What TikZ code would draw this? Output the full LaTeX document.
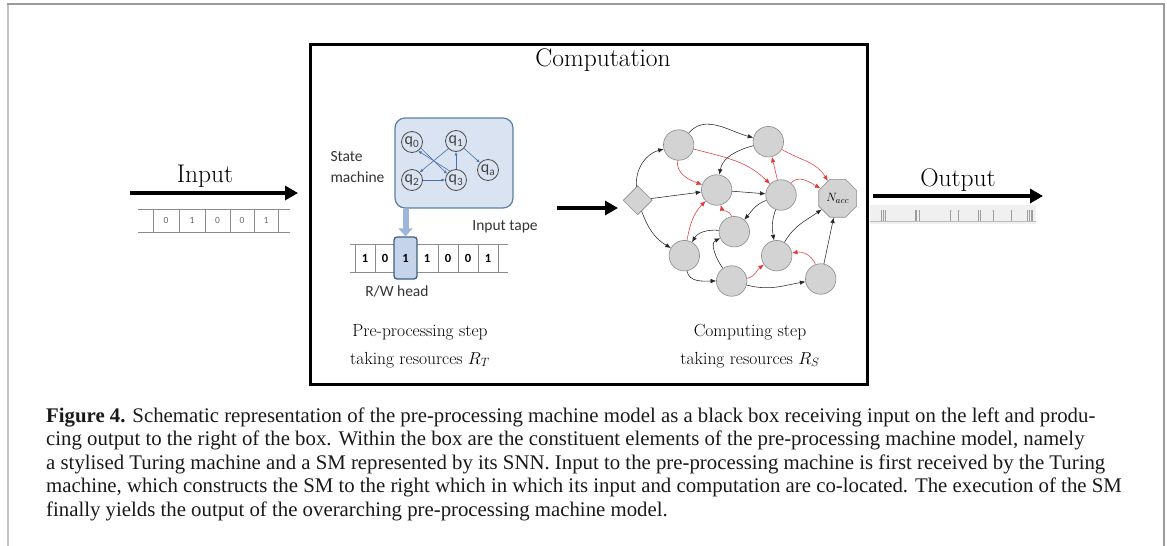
\documentclass[tikz,border=0pt]{standalone}
\usepackage{fontspec}
\newfontfamily\smfont{Carlito}
\newfontfamily\capfont{Liberation Serif}
\usetikzlibrary{arrows.meta,shapes.geometric}
\definecolor{framegray}{HTML}{9A9A9A}
\definecolor{frameleft}{HTML}{C4C4C4}
\definecolor{smfill}{HTML}{DAE3F1}
\definecolor{smedge}{HTML}{5E7FA8}
\definecolor{smarr}{HTML}{4A70A8}
\definecolor{headfill}{HTML}{C5D4EA}
\definecolor{headedge}{HTML}{3F5E86}
\definecolor{headarr}{HTML}{9DB6DB}
\definecolor{nfill}{HTML}{D3D3D3}
\definecolor{nedge}{HTML}{8A8A8A}
\definecolor{inhred}{HTML}{E0393B}
\definecolor{tapeline}{HTML}{8C8C8C}
\definecolor{spikeband}{HTML}{F0F0F0}
\definecolor{spike}{HTML}{9C9C9C}
\tikzset{
  bigarrow/.style={line width=4pt,-{Triangle[length=13pt,width=14pt]}},
  neuron/.style={circle,fill=nfill,draw=nedge,line width=0.6pt,minimum size=30.5pt,inner sep=0pt},
  excite/.style={line width=0.55pt,draw=black!85,-{Latex[length=5.5pt,width=4.5pt]}},
  inhibit/.style={line width=0.55pt,draw=inhred,-{Latex[length=5.5pt,width=4.5pt]}},
  qstate/.style={circle,draw=black!70,line width=0.8pt,minimum size=21pt,inner sep=0pt,
    font=\smfont\fontsize{16}{16}\selectfont,text=black!75},
  smarrow/.style={line width=0.6pt,draw=smarr,-{Latex[length=3.5pt,width=3pt]}},
  bigtext/.style={font=\fontsize{25.5}{30}\selectfont},
  steptext/.style={align=center,font=\fontsize{17.5}{28}\selectfont},
  tmtext/.style={font=\smfont\fontsize{15.5}{21}\selectfont,text=black!80},
  tapedigit/.style={font=\smfont\bfseries\fontsize{12.5}{12.5}\selectfont,inner sep=0pt},
  indigit/.style={font=\smfont\fontsize{9.5}{9.5}\selectfont,text=black!60,inner sep=0pt},
  capline/.style={anchor=base west,inner sep=0pt,font=\capfont\fontsize{20.8}{23.5}\selectfont,text=black!90},
}
\begin{document}
\begin{tikzpicture}[x=1pt,y=1pt]
\useasboundingbox (0,0) rectangle (1167,-546);

% page frame
\draw[frameleft,line width=2pt] (8,-546) -- (8,-4);
\draw[framegray,line width=1.2pt] (7,-4) -- (1164,-4) -- (1164,-546);

% black box
\draw[line width=3pt] (310,-44) rectangle (867,-384);
\node[bigtext,anchor=base] (comp) at (603,-66) {Computation};

% input side
\coordinate (inA) at (130,-193);
\coordinate (inB) at (298,-193);
\draw[bigarrow] (inA) -- (inB);
\node[bigtext,anchor=base] (inlabel) at (205,-182) {Input};
\draw[tapeline,line width=0.7pt] (138,-209) -- (290,-209) (138,-232) -- (290,-232);
\foreach \x in {153,179,205,230,254,278}
  \draw[tapeline,line width=0.7pt] (\x,-209) -- (\x,-232);
\foreach \x/\d [count=\i] in {166/0,192/1,217.5/0,242/0,266/1}
  \node[indigit] (in\i) at (\x,-220.5) {\d};

% output side
\coordinate (outA) at (873,-196);
\coordinate (outB) at (1043,-196);
\draw[bigarrow] (outA) -- (outB);
\node[bigtext,anchor=base] (outlabel) at (958,-186) {Output};
\fill[spikeband] (870,-205) rectangle (1036,-224);
\draw[spike!70,line width=0.6pt] (870,-221) -- (1036,-221);
\foreach \x in {881.7,883.3,885,915,916.7,919,950.7,958.3,978.3,980.7,993.3,1011.7,1027.7,1029.3,1031,1032.7}
  \draw[spike,line width=0.6pt] (\x,-210) -- (\x,-221);

% state machine
\node[draw=smedge,fill=smfill,line width=1.2pt,rounded corners=10pt,
      minimum width=118pt,minimum height=90pt] (sm) at (454,-163) {};
\node[tmtext,anchor=west,align=left] (smlabel) at (327,-167) {State\\machine};
\node[qstate] (q0) at (412,-142) {q\textsubscript{0}};
\node[qstate] (q1) at (456,-141) {q\textsubscript{1}};
\node[qstate] (q2) at (412,-180) {q\textsubscript{2}};
\node[qstate] (q3) at (456,-180) {q\textsubscript{3}};
\node[qstate] (qa) at (488,-170) {q\textsubscript{a}};
\draw[smarrow] (q0.-35) -- (q3.145);
\draw[smarrow] (q3.125) -- (q0.-55);
\draw[smarrow] (q1.225) -- (q2.45);
\draw[smarrow] (q2) -- (q3);
\draw[smarrow] (q3) -- (q1);
\draw[smarrow] (q1) -- (qa);

% tape and read/write head
\draw[tapeline,line width=0.8pt] (350,-244) -- (508,-244) (350,-272) -- (508,-272);
\foreach \x in {355,375,395,416,438,458,478,498}
  \draw[tapeline,line width=0.8pt] (\x,-244) -- (\x,-272);
\node[draw=headedge,fill=headfill,line width=1.3pt,rounded corners=3pt,
      minimum width=23pt,minimum height=42pt,inner sep=0pt] (head) at (405.5,-258) {};
\foreach \x/\d [count=\i] in {365/1,385/0,405.5/1,427/1,448/0,468/0,488/1}
  \node[tapedigit] (t\i) at (\x,-258) {\d};
\draw[headarr,line width=6pt,-{Triangle[length=8pt,width=14pt]}] (sm.south -| head) -- (head.north);
\node[tmtext] (tapelabel) at (505,-227) {Input tape};
\node[tmtext] (rwlabel) at (397,-291) {R/W head};

% captions inside the box (base anchor sits on the second line)
\node[steptext,anchor=base] (pre) at (420,-364) {Pre-processing step\\taking resources $R_T$};
\node[steptext,anchor=base] (cmp) at (750,-364) {Computing step\\taking resources $R_S$};

% arrow into the network
\coordinate (midA) at (557,-208);
\coordinate (midB) at (618,-208);
\draw[bigarrow] (midA) -- (midB);

% spiking network
\node[diamond,fill=nfill,draw=nedge,line width=0.6pt,minimum size=29pt,inner sep=0pt] (dm) at (637.7,-200.3) {};
\node[neuron] (A) at (678.7,-145) {};
\node[neuron] (B) at (768.3,-141.7) {};
\node[neuron] (C) at (716.7,-190) {};
\node[neuron] (D) at (781,-195) {};
\node[neuron] (E) at (734.3,-231.7) {};
\node[neuron] (F) at (684.3,-255.7) {};
\node[neuron] (G) at (776.7,-255.7) {};
\node[neuron] (H) at (731.7,-281) {};
\node[neuron] (I) at (820.7,-279) {};
\node[regular polygon,regular polygon sides=8,fill=nfill,draw=nedge,line width=0.6pt,
      minimum size=41pt,inner sep=0pt,font=\fontsize{13}{13}\selectfont] (N) at (837.7,-198.3) {$N_{acc}$};

\draw[excite] (dm) to[out=95,in=195] (A);
\draw[excite] (dm) -- (C);
\draw[excite] (dm) to[out=-70,in=150] (F);
\draw[excite] (A) to[out=50,in=165] (B);
\draw[excite] (B) to[out=195,in=80] (C);
\draw[excite] (C) -- (D);
\draw[excite] (D) to[out=200,in=50] (E);
\draw[excite] (D) to[out=250,in=100] (G);
\draw[excite] (G) to[out=60,in=215] (N);
\draw[excite] (I) -- (N);
\draw[excite] (E) to[out=175,in=60] (F);
\draw[excite] (H) to[out=125,in=205] (E);
\draw[excite] (F) to[out=-80,in=180] (H);
\draw[excite] (H) to[out=-15,in=190] (I);

\draw[inhibit] (A) to[out=-95,in=160] (C);
\draw[inhibit] (A) to[out=-15,in=135] (D);
\draw[inhibit] (B) to[out=-30,in=120] (N);
\draw[inhibit] (D) -- (B);
\draw[inhibit] (D) to[out=50,in=150] (N);
\draw[inhibit] (F) to[out=80,in=225] (C);
\draw[inhibit] (E) to[out=100,in=-75] (C);
\draw[inhibit] (H) to[out=10,in=215] (G);
\draw[inhibit] (I) to[out=110,in=10] (G);

% figure caption
\node[capline] (c1) at (46,-422) {\textbf{Figure 4.} Schematic representation of the pre-processing machine model as a black box receiving input on the left and produ-};
\node[capline] (c2) at (46,-445.5) {cing output to the right of the box. Within the box are the constituent elements of the pre-processing machine model, namely};
\node[capline] (c3) at (46,-469) {a stylised Turing machine and a SM represented by its SNN. Input to the pre-processing machine is first received by the Turing};
\node[capline] (c4) at (46,-492.5) {machine, which constructs the SM to the right which in which its input and computation are co-located. The execution of the SM};
\node[capline] (c5) at (46,-516) {finally yields the output of the overarching pre-processing machine model.};
\end{tikzpicture}
\end{document}
